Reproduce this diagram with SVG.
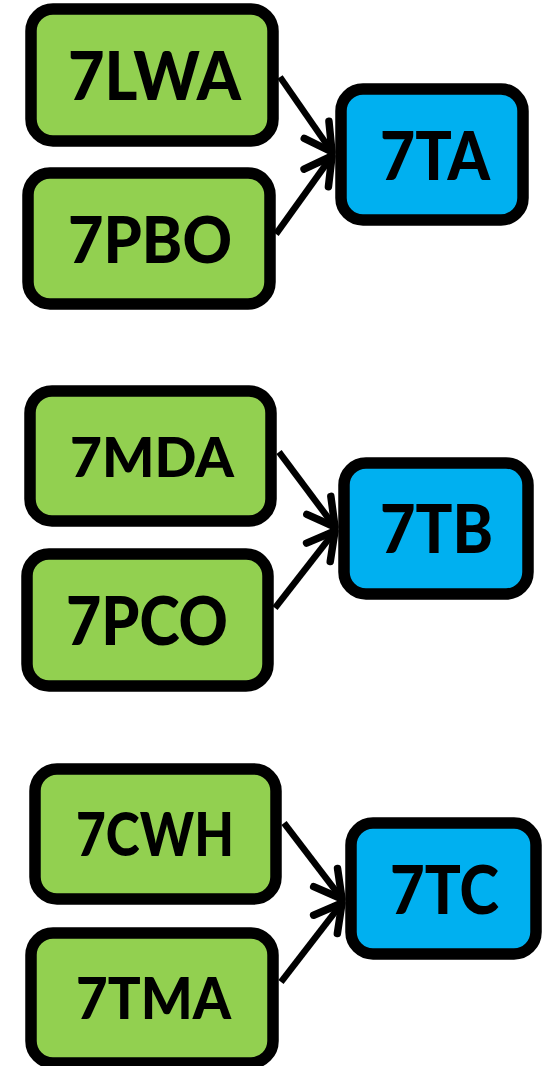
<svg xmlns="http://www.w3.org/2000/svg" width="544" height="1066" viewBox="0 0 544 1066">
<defs>
<style>
.src rect{fill:#92D050;stroke:#000;stroke-width:11.5}
.dst rect{fill:#00B0F0;stroke:#000;stroke-width:11.5}
text{font-family:Lato,"Open Sans","Liberation Sans",sans-serif;font-weight:900;fill:#000;text-anchor:middle}
.conn line{stroke:#000;stroke-width:6.5;marker-end:url(#ah)}
</style>
<marker id="ah" markerUnits="userSpaceOnUse" viewBox="-34 -22 38 44" refX="0" refY="0" markerWidth="38" markerHeight="44" orient="auto" overflow="visible">
<path d="M-27,-15 L0,0 L-27,15" fill="none" stroke="#000" stroke-width="7.5" stroke-linecap="round" stroke-linejoin="round"/>
</marker>
</defs>
<rect width="544" height="1066" fill="#fff"/>
<g class="conn" id="connectors">
<line x1="280" y1="77" x2="332" y2="152"/>
<line x1="276" y1="234" x2="332" y2="156"/>
<line x1="279" y1="452" x2="335" y2="527"/>
<line x1="275" y1="608" x2="335" y2="531"/>
<line x1="284" y1="823" x2="342" y2="899"/>
<line x1="281" y1="982" x2="342" y2="903"/>
</g>
<g class="src" id="n7LWA"><rect x="31" y="9" width="242" height="132" rx="22"/><text x="154.5" y="100" font-size="66" textLength="173" lengthAdjust="spacingAndGlyphs">7LWA</text></g>
<g class="src" id="n7PBO"><rect x="28" y="173" width="242" height="131" rx="22"/><text x="150" y="263" font-size="65" textLength="164" lengthAdjust="spacingAndGlyphs">7PBO</text></g>
<g class="dst" id="n7TA"><rect x="341" y="89" width="182" height="131" rx="22"/><text x="435" y="180" font-size="67" textLength="110" lengthAdjust="spacingAndGlyphs">7TA</text></g>
<g class="src" id="n7MDA"><rect x="30" y="391" width="241" height="130" rx="22"/><text x="152" y="477" font-size="56" textLength="164" lengthAdjust="spacingAndGlyphs">7MDA</text></g>
<g class="src" id="n7PCO"><rect x="27" y="554" width="241" height="132" rx="22"/><text x="147" y="645" font-size="67" textLength="162" lengthAdjust="spacingAndGlyphs">7PCO</text></g>
<g class="dst" id="n7TB"><rect x="344" y="463" width="184" height="131" rx="22"/><text x="436.5" y="553" font-size="67" textLength="113" lengthAdjust="spacingAndGlyphs">7TB</text></g>
<g class="src" id="n7CWH"><rect x="35" y="769" width="241" height="130" rx="22"/><text x="155" y="856" font-size="60" textLength="158" lengthAdjust="spacingAndGlyphs">7CWH</text></g>
<g class="src" id="n7TMA"><rect x="31" y="933" width="242" height="130" rx="22"/><text x="153.5" y="1019" font-size="57" textLength="155" lengthAdjust="spacingAndGlyphs">7TMA</text></g>
<g class="dst" id="n7TC"><rect x="351" y="823" width="185" height="131" rx="22"/><text x="444.5" y="914" font-size="66" textLength="109" lengthAdjust="spacingAndGlyphs">7TC</text></g>
</svg>
